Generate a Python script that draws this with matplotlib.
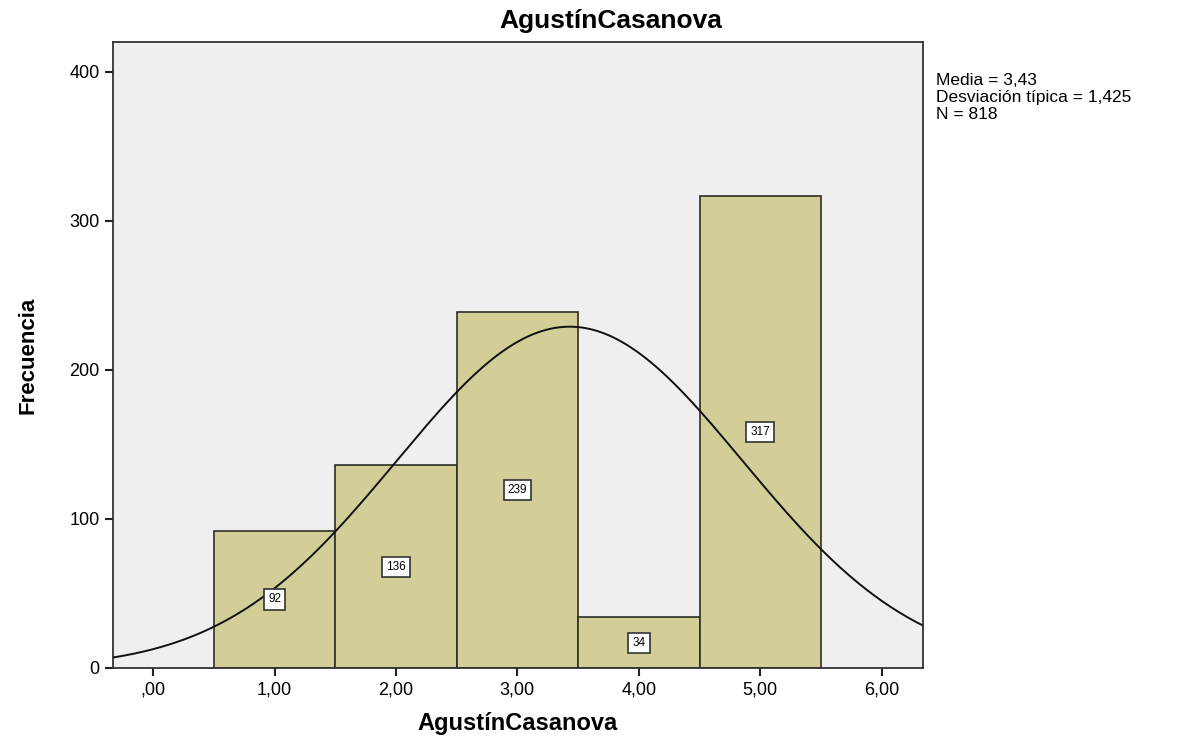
import numpy as np
import matplotlib
matplotlib.use("Agg")
import matplotlib.pyplot as plt

plt.rcParams["font.family"] = ["Liberation Sans", "DejaVu Sans"]

# histogram bins (centre values) and counts
bin_centers = [1.0, 2.0, 3.0, 4.0, 5.0]
counts = [92, 136, 239, 34, 317]
tick_vals = [0, 1, 2, 3, 4, 5, 6]
tick_labels = [",00", "1,00", "2,00", "3,00", "4,00", "5,00", "6,00"]
mean, sd, n = 3.43, 1.425, 818

fig = plt.figure(figsize=(11.82, 7.40), dpi=100)
ax = fig.add_axes([0.0956, 0.0973, 0.6853, 0.8459])
ax.set_facecolor("#efefef")

ax.bar(bin_centers, counts, width=1.0, color="#d3ce97", edgecolor="#2e2e26", linewidth=1.2, zorder=2)

# normal curve scaled to counts (bin width 1)
xs = np.linspace(-0.4, 6.4, 400)
ys = n / (sd * np.sqrt(2 * np.pi)) * np.exp(-0.5 * ((xs - mean) / sd) ** 2)
ax.plot(xs, ys, color="#111111", lw=1.4, zorder=3)

for xc, c in zip(bin_centers, counts):
    ax.text(xc, c / 2, str(c), ha="center", va="center", fontsize=8.5, zorder=4,
            bbox=dict(boxstyle="square,pad=0.35", fc="white", ec="#333333", lw=1.2))

ax.set_xlim(-0.33, 6.34)
ax.set_ylim(0, 420)
ax.set_xticks(tick_vals)
ax.set_xticklabels(tick_labels)
ax.set_yticks([0, 100, 200, 300, 400])
ax.tick_params(axis="both", labelsize=13, length=6, width=1.5, color="#222222")
for s in ax.spines.values():
    s.set_linewidth(1.3)
    s.set_color("#333333")

fig.text(0.517, 0.972, "AgustínCasanova", fontsize=19, fontweight="bold", ha="center", va="center")
ax.set_xlabel("AgustínCasanova", fontsize=17, fontweight="bold", labelpad=10)
ax.set_ylabel("Frecuencia", fontsize=16, fontweight="bold", labelpad=22)

fig.text(0.792, 0.902, "Media = 3,43\nDesviación típica = 1,425\nN = 818",
         fontsize=12.5, va="top", ha="left", linespacing=1.2)

fig.savefig("out.png", dpi=100)
